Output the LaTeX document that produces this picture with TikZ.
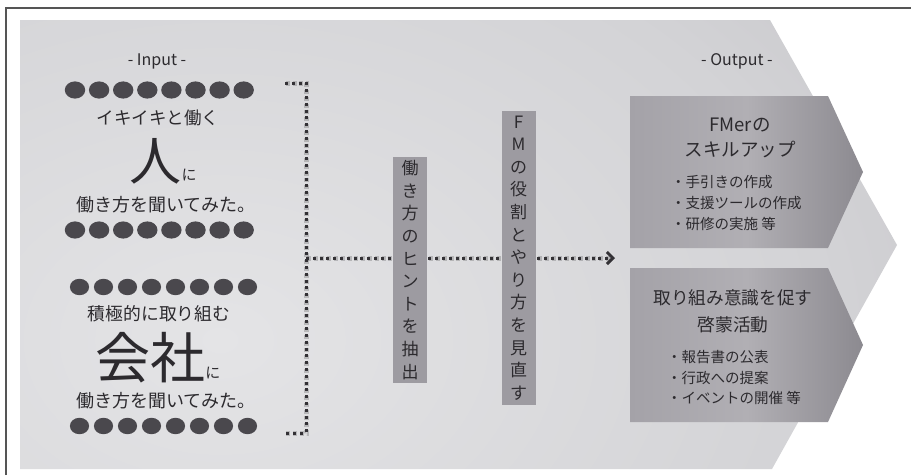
\documentclass[tikz,border=0pt]{standalone}
\usepackage{fontspec}
\setmainfont{Noto Sans CJK JP}
\usetikzlibrary{arrows.meta}
\definecolor{txt}{HTML}{2C2A2E}
\definecolor{dotc}{HTML}{4A484D}
\definecolor{linec}{HTML}{333135}
\definecolor{vboxc}{HTML}{9D9BA1}
\definecolor{framec}{HTML}{555555}
\definecolor{bgA}{HTML}{E4E4E6}
\definecolor{bgB}{HTML}{D3D3D6}
\definecolor{bgC}{HTML}{BEBDC1}
\definecolor{bgD}{HTML}{ADACB1}
\definecolor{outL}{HTML}{A4A2A8}
\definecolor{outM}{HTML}{B1AFB4}
\definecolor{outR}{HTML}{8C8A90}
\pgfdeclareradialshading{bgrad}{\pgfpoint{0bp}{0bp}}{color(0bp)=(bgA); color(20bp)=(bgB); color(35bp)=(bgC); color(50bp)=(bgD)}
\newcommand{\fs}[1]{\fontsize{#1}{#1}\selectfont}
\tikzset{
  txtnode/.style={inner sep=0pt, text=txt},
  vtext/.style={fill=vboxc, text=txt, inner sep=0pt, align=center, minimum width=34pt,
     font=\fontsize{17}{22.6}\selectfont},
  dotline/.style={draw=linec, line width=3pt, dash pattern=on 3pt off 3.8pt},
  dotshadow/.style={draw=black, opacity=0.18, line width=5pt, dash pattern=on 4pt off 2.8pt},
  outbox/.style={left color=outL, right color=outR, middle color=outM},
  bullet/.style={inner sep=0pt, text=txt, anchor=west, font=\fs{14.5}},
}
\begin{document}
\begin{tikzpicture}[x=1pt,y=-1pt]
\useasboundingbox (0,0) rectangle (911,475);
\fill[white] (0,0) rectangle (911,475);
\draw[framec, line width=1.2pt] (6,475) -- (6,8) -- (911,8);
% chevron background
\begin{scope}
  \clip (20,20) -- (770,20) -- (897,245) -- (772,469) -- (20,469) -- cycle;
  \shade[shading=bgrad] (220,340) ellipse (760 and 540);
\end{scope}
% input dots
\foreach \yy in {90,230} {
  \foreach \i in {0,...,7} \fill[dotc] (75+\i*24.1,\yy) ellipse (10.2 and 8.6);
}
\foreach \yy in {287,426} {
  \foreach \i in {0,...,7} \fill[dotc] (79.5+\i*24.0,\yy) ellipse (9.6 and 8.2);
}
% input texts
\node[txtnode, font=\fs{16}] (inlabel) at (157,61) {- Input -};
\node[txtnode, font=\fs{17.5}] (in1a) at (158,117.5) {イキイキと働く};
\node[txtnode, anchor=base] (in1b) at (163,180) {{\fs{52}人}{\fs{15}に}};
\node[txtnode, font=\fs{18}] (in1c) at (166,205) {働き方を聞いてみた。};
\node[txtnode, font=\fs{17.8}] (in2a) at (159,314) {積極的に取り組む};
\node[txtnode, anchor=base] (in2b) at (158,378) {{\fs{55}会社}{\fs{15}に}};
\node[txtnode, font=\fs{18}] (in2c) at (166,400.5) {働き方を聞いてみた。};
% bracket and arrow
\coordinate (bt1) at (285,83);
\coordinate (bt2) at (306,83);
\coordinate (bb2) at (306,433);
\coordinate (bb1) at (285,433);
\coordinate (bm) at (306,258);
\coordinate (arrowend) at (615,258);
\draw[dotshadow] ([shift={(0.8,0.8)}]bt1) -- ([shift={(0.8,0.8)}]bt2) -- ([shift={(0.8,0.8)}]bb2) -- ([shift={(0.8,0.8)}]bb1);
\draw[dotshadow] ([shift={(0.8,0.8)}]bm) -- ([shift={(-4,0.8)}]arrowend);
\draw[dotline] (bt1) -- (bt2) -- (bb2) -- (bb1);
\draw[dotline, -{Straight Barb[length=6pt,width=12pt,line width=3pt]}] (bm) -- (arrowend);
% vertical boxes
\node[vtext, minimum height=226pt] (hint) at (410,270) {働\\き\\方\\の\\ヒ\\ン\\ト\\を\\抽\\出};
\node[vtext, minimum height=294pt] (fm) at (518.5,258) {F\\M\\の\\役\\割\\と\\や\\り\\方\\を\\見\\直\\す};
% output label
\node[txtnode, font=\fs{16}] (outlabel) at (737,61) {- Output -};
% output box 1
\shade[outbox] (630,96) -- (828,96) -- (863,172) -- (828,248) -- (630,248) -- cycle;
\node[txtnode, font=\fs{18.5}] (o1a) at (740,125) {FMerの};
\node[txtnode, font=\fs{18.5}] (o1b) at (740,150) {スキルアップ};
\node[bullet] (o1c) at (671,182) {・手引きの作成};
\node[bullet] (o1d) at (671,203) {・支援ツールの作成};
\node[bullet] (o1e) at (671,224) {・研修の実施 等};
% output box 2
\shade[outbox] (630,268) -- (828,268) -- (863,345) -- (828,422) -- (630,422) -- cycle;
\node[txtnode, font=\fs{17.7}] (o2a) at (733,298) {取り組み意識を促す};
\node[txtnode, font=\fs{17.7}] (o2b) at (733,325) {啓蒙活動};
\node[bullet] (o2c) at (667,357) {・報告書の公表};
\node[bullet] (o2d) at (667,378) {・行政への提案};
\node[bullet] (o2e) at (667,398) {・イベントの開催 等};
\end{tikzpicture}
\end{document}
